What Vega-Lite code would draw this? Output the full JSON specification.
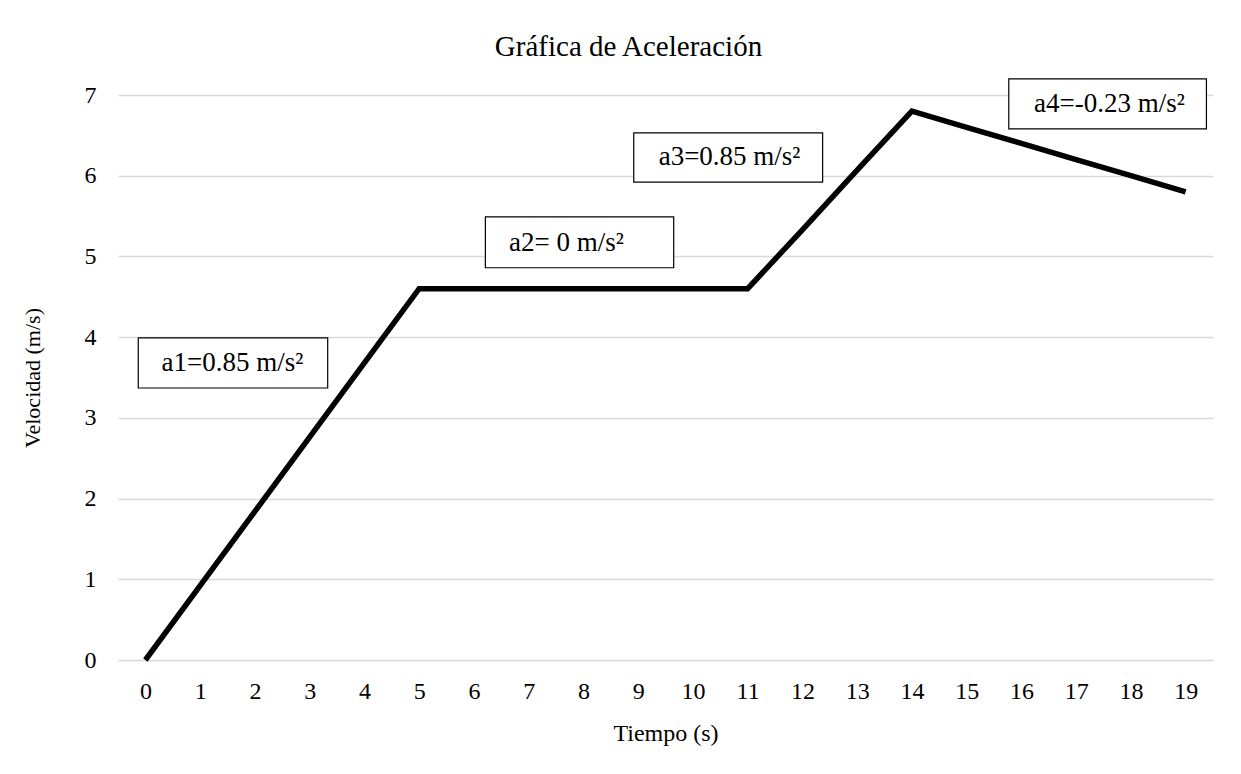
{
  "$schema": "https://vega.github.io/schema/vega-lite/v6.json",
  "width": 1095,
  "height": 565,
  "autosize": "none",
  "padding": {"left": 118, "top": 95, "right": 28, "bottom": 114},
  "background": "white",
  "config": {
    "view": {"stroke": null},
    "font": "Liberation Serif",
    "axis": {"labelFont": "Liberation Serif", "titleFont": "Liberation Serif", "labelColor": "black", "titleColor": "black", "titleFontWeight": "normal"}
  },
  "title": {
    "text": "Gráfica  de Aceleración",
    "font": "Liberation Serif",
    "fontSize": 29,
    "fontWeight": "normal",
    "color": "black",
    "anchor": "middle",
    "frame": "group",
    "dx": -37,
    "offset": 16
  },
  "datasets": {
    "series": [
      {"t": 0, "v": 0},
      {"t": 1, "v": 0.92},
      {"t": 2, "v": 1.84},
      {"t": 3, "v": 2.76},
      {"t": 4, "v": 3.68},
      {"t": 5, "v": 4.6},
      {"t": 6, "v": 4.6},
      {"t": 7, "v": 4.6},
      {"t": 8, "v": 4.6},
      {"t": 9, "v": 4.6},
      {"t": 10, "v": 4.6},
      {"t": 11, "v": 4.6},
      {"t": 12, "v": 5.33},
      {"t": 13, "v": 6.07},
      {"t": 14, "v": 6.8},
      {"t": 15, "v": 6.6},
      {"t": 16, "v": 6.4},
      {"t": 17, "v": 6.2},
      {"t": 18, "v": 6.0},
      {"t": 19, "v": 5.8}
    ],
    "notes": [
      {"label": "a1=0.85 m/s²", "x1": -0.13, "x2": 3.33, "y1": 3.37, "y2": 3.99, "tx": 1.59, "ty": 3.68},
      {"label": "a2= 0 m/s²", "x1": 6.21, "x2": 9.65, "y1": 4.86, "y2": 5.49, "tx": 7.69, "ty": 5.17},
      {"label": "a3=0.85 m/s²", "x1": 8.92, "x2": 12.37, "y1": 5.92, "y2": 6.53, "tx": 10.67, "ty": 6.23},
      {"label": "a4=-0.23  m/s²", "x1": 15.77, "x2": 19.38, "y1": 6.58, "y2": 7.2, "tx": 17.61, "ty": 6.89}
    ]
  },
  "layer": [
    {
      "data": {"name": "series"},
      "mark": {"type": "line", "color": "black", "strokeWidth": 5.5, "strokeJoin": "miter", "strokeCap": "butt"},
      "encoding": {
        "x": {
          "field": "t", "type": "quantitative",
          "scale": {"domain": [-0.5, 19.5], "nice": false, "zero": false},
          "axis": {
            "title": "Tiempo  (s)",
            "values": [0,1,2,3,4,5,6,7,8,9,10,11,12,13,14,15,16,17,18,19],
            "format": "d",
            "grid": false, "ticks": false, "domain": false,
            "labelFontSize": 24, "labelPadding": 19, "labelFlush": false,
            "titleFontSize": 24, "titlePadding": 18
          }
        },
        "y": {
          "field": "v", "type": "quantitative",
          "scale": {"domain": [0, 7], "nice": false},
          "axis": {
            "title": "Velocidad  (m/s)",
            "values": [0,1,2,3,4,5,6,7],
            "format": "d",
            "grid": true, "gridColor": "#d9d9d9", "gridWidth": 1.5,
            "ticks": false, "domain": false,
            "labelFontSize": 24, "labelPadding": 22,
            "titleFontSize": 22, "titlePadding": 40
          }
        }
      }
    },
    {
      "data": {"name": "notes"},
      "mark": {"type": "rect", "fill": "white", "stroke": "black", "strokeWidth": 1.2},
      "encoding": {
        "x": {"field": "x1", "type": "quantitative"},
        "x2": {"field": "x2"},
        "y": {"field": "y1", "type": "quantitative"},
        "y2": {"field": "y2"}
      }
    },
    {
      "data": {"name": "notes"},
      "mark": {"type": "text", "font": "Liberation Serif", "fontSize": 27, "color": "black", "align": "center", "baseline": "middle"},
      "encoding": {
        "x": {"field": "tx", "type": "quantitative"},
        "y": {"field": "ty", "type": "quantitative"},
        "text": {"field": "label"}
      }
    }
  ]
}
